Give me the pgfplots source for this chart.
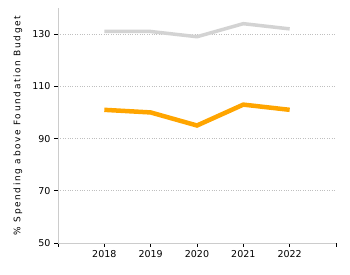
\documentclass[border=0pt]{standalone}
\usepackage{pgfplots}
\pgfplotsset{compat=1.18}
\usepackage{fontspec}
\setmainfont{DejaVu Sans}
\newfontfamily\labfont[LetterSpace=18]{DejaVu Sans}
\begin{document}
\begin{tikzpicture}
\begin{axis}[
  scale only axis,
  width=278pt, height=235pt,
  xmin=2017, xmax=2023,
  ymin=50, ymax=140,
  xtick={2017,2018,2019,2020,2021,2022,2023},
  xticklabels={,2018,2019,2020,2021,2022,},
  ytick={50,70,90,110,130},
  axis x line*=bottom, axis y line*=left,
  axis line style={draw=black!20, line width=0.8pt},
  x axis line style={-}, y axis line style={-},
  tick style={black, line width=0.8pt},
  tick align=outside,
  major tick length=4pt,
  ymajorgrids,
  grid style={dotted, black!25, line width=0.6pt},
  tick label style={font=\fontsize{9.5}{10}\selectfont},
  /pgf/number format/assume math mode=true,
  /pgf/number format/1000 sep={},
  ylabel={\labfont\fontsize{9}{10}\selectfont \% Spending above Foundation Budget},
  ylabel style={at={([xshift=-40pt]rel axis cs:0,0.5)}, anchor=center},
  clip=false,
]
\addplot[color={rgb,255:red,211;green,211;blue,211}, line width=3.5pt] coordinates {
 (2018,131) (2019,131) (2020,129) (2021,134) (2022,132)};
\addplot[color={rgb,255:red,255;green,165;blue,0}, line width=4.5pt] coordinates {
 (2018,101) (2019,100) (2020,95) (2021,103) (2022,101)};
\path ([xshift=-58pt,yshift=-32pt]rel axis cs:0,0) rectangle ([xshift=14pt,yshift=8pt]rel axis cs:1,1);
\end{axis}
\end{tikzpicture}
\end{document}
